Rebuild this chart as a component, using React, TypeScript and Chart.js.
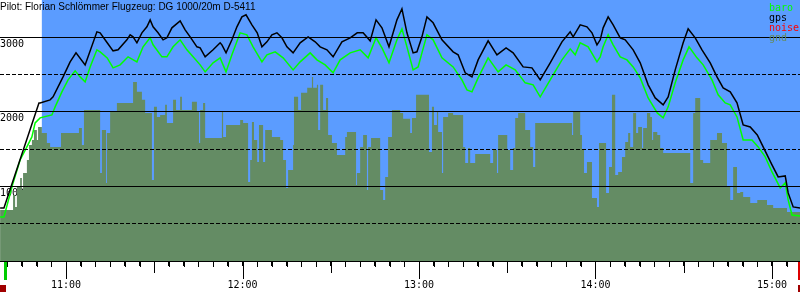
import React, { useEffect, useRef } from 'react';
import { Chart, registerables } from 'chart.js';

Chart.register(...registerables);

// ---------- texts ----------
const TITLE = 'Pilot: Florian Schlömmer Flugzeug: DG 1000/20m D-5411';
const legendLabels = ['baro', 'gps', 'noise', 'gnd'];
const legendColors = ['#00ff00', '#000000', '#ff0000', '#648c64'];

// ---------- time frame (minutes since midnight) ----------
const VIEW_START = 637.56; // left edge
const VIEW_END = 909.52; // right edge
const TAKEOFF_TIME = 639.4;
const RELEASE_TIME = 651.7; // start of the blue (flight) zone
const LANDING_TIME = 909.2;
const Y_MAX = 3500;
const yLabelTicks = [1000, 2000, 3000];
const yDashTicks = [500, 1500, 2500];

// ---------- gps altitude (black) ----------
const gpsTime = [
  637.6, 638.9, 650.8, 651.2, 654.6, 655.6, 659.0, 661.4, 663.4, 666.5,
  670.5, 671.6, 674.0, 676.0, 677.7, 680.7, 681.8, 682.8, 684.1, 685.8,
  687.5, 688.6, 689.6, 691.3, 693.0, 694.3, 696.0, 698.8, 700.5, 702.2,
  704.5, 705.6, 707.3, 710.0, 712.4, 713.0, 714.4, 716.4, 718.1, 719.8,
  721.2, 723.2, 725.0, 726.6, 728.3, 730.0, 731.7, 733.4, 735.1, 737.2,
  739.6, 742.3, 744.7, 746.4, 748.7, 750.8, 753.8, 756.6, 759.0, 761.0,
  763.4, 765.4, 767.4, 769.8, 772.5, 774.2, 775.9, 778.0, 779.3, 781.0,
  782.7, 784.8, 787.8, 791.6, 793.3, 795.7, 798.0, 800.1, 803.5, 806.5,
  809.6, 812.0, 815.4, 818.4, 821.2, 824.6, 828.6, 831.4, 832.4, 834.8,
  837.1, 838.8, 840.5, 841.6, 842.6, 844.3, 846.0, 848.4, 850.1, 852.8,
  855.2, 857.9, 860.3, 863.0, 864.7, 867.1, 869.8, 871.5, 873.9, 876.2,
  879.0, 881.3, 883.4, 885.8, 888.1, 890.2, 892.6, 895.0, 897.0, 900.0,
  902.1, 904.5, 905.5, 907.2, 909.6,
];
const gpsAlt = [
  711, 711, 2120, 2120, 2161, 2201, 2469, 2671, 2791, 2630,
  3073, 3060, 2926, 2818, 2832, 2966, 3033, 3006, 2926, 3060,
  3140, 3234, 3140, 3060, 2966, 2993, 3127, 3221, 3100, 3006,
  2872, 2858, 2738, 2832, 2926, 2899, 2791, 2966, 3140, 3274,
  3301, 3167, 3060, 2872, 2939, 3033, 3060, 2993, 2872, 2791,
  2926, 3006, 2939, 2872, 2832, 2738, 2939, 2993, 3060, 3060,
  2952, 3234, 3127, 2872, 3234, 3382, 3060, 2791, 2805, 3006,
  3274, 3194, 2966, 2805, 2765, 2523, 2469, 2697, 2952, 2765,
  2858, 2791, 2603, 2590, 2429, 2657, 2939, 3073, 3006, 3167,
  3140, 3060, 2899, 2966, 3127, 3274, 3167, 2993, 2966, 2832,
  2657, 2362, 2187, 2094, 2201, 2563, 2926, 3113, 2993, 2832,
  2657, 2469, 2322, 2268, 2120, 1825, 1798, 1691, 1530, 1288,
  1127, 1141, 913, 725, 711,
];

// ---------- baro altitude (green) ----------
const baroTime = [
  637.6, 638.9, 642.0, 644.4, 646.7, 648.4, 649.5, 651.2, 655.2, 656.3,
  658.6, 660.7, 663.1, 664.8, 666.5, 668.2, 670.5, 671.6, 674.0, 676.0,
  678.4, 681.1, 684.1, 686.2, 688.6, 689.6, 692.6, 694.3, 696.4, 698.8,
  701.1, 703.2, 705.6, 707.3, 710.0, 712.4, 714.4, 716.4, 719.2, 721.5,
  723.6, 726.6, 728.3, 731.1, 733.8, 737.2, 739.6, 743.0, 745.3, 748.1,
  750.8, 753.2, 756.6, 760.0, 762.7, 765.4, 767.4, 769.8, 772.5, 774.2,
  775.9, 778.0, 779.7, 781.0, 782.7, 784.8, 787.8, 791.6, 794.6, 796.3,
  798.0, 800.1, 803.5, 806.9, 809.6, 812.7, 816.1, 818.8, 821.2, 824.6,
  828.6, 831.4, 833.1, 834.8, 837.5, 840.5, 841.6, 842.6, 844.3, 846.0,
  848.4, 850.7, 852.8, 855.2, 857.9, 861.0, 863.0, 864.7, 867.1, 869.8,
  871.8, 874.5, 876.6, 879.6, 881.7, 884.1, 885.8, 888.1, 890.2, 893.2,
  895.3, 897.7, 900.0, 902.8, 904.5, 905.5, 906.8, 909.6,
];
const baroAlt = [
  590, 590, 1047, 1355, 1530, 1664, 1852, 1919, 1959, 2067,
  2268, 2429, 2550, 2469, 2402, 2603, 2832, 2805, 2724, 2590,
  2630, 2738, 2671, 2872, 2993, 2899, 2738, 2738, 2872, 2966,
  2832, 2738, 2630, 2536, 2657, 2724, 2536, 2765, 3060, 3033,
  2872, 2671, 2765, 2805, 2724, 2563, 2671, 2791, 2697, 2630,
  2523, 2697, 2791, 2832, 2724, 2993, 2858, 2657, 2966, 3113,
  2872, 2563, 2603, 2791, 3033, 2966, 2724, 2603, 2429, 2295,
  2268, 2456, 2724, 2536, 2630, 2563, 2389, 2362, 2201, 2429,
  2697, 2845, 2765, 2926, 2872, 2671, 2738, 2872, 3033, 2899,
  2738, 2697, 2603, 2456, 2187, 1986, 1919, 2067, 2389, 2697,
  2872, 2724, 2630, 2429, 2228, 2120, 2094, 1932, 1624, 1624,
  1530, 1396, 1194, 980, 1047, 819, 617, 604,
];

// ---------- gnd (olive, stepped) ----------
const gndTime = [
  637.6, 642.0, 642.7, 643.3, 644.4, 645.0, 645.4, 646.7, 647.4, 648.4,
  649.1, 650.1, 650.5, 651.8, 653.5, 654.6, 658.3, 664.4, 665.4, 666.1,
  671.6, 672.2, 673.6, 673.9, 675.0, 677.3, 682.8, 684.1, 685.8, 686.9,
  689.2, 689.9, 690.9, 692.0, 693.7, 694.3, 696.4, 697.4, 698.8, 699.4,
  702.8, 704.5, 705.2, 705.6, 706.6, 707.3, 713.0, 713.4, 714.4, 719.2,
  720.2, 721.9, 722.6, 723.2, 723.9, 725.0, 725.6, 727.0, 727.7, 730.0,
  732.8, 733.8, 734.8, 735.5, 737.2, 737.5, 738.9, 739.9, 742.0, 743.6,
  744.0, 745.3, 745.7, 746.4, 747.4, 748.4, 749.1, 750.4, 752.1, 754.9,
  755.5, 758.6, 758.9, 760.0, 761.0, 762.3, 762.7, 763.7, 766.8, 767.8,
  768.5, 769.5, 770.8, 773.6, 774.6, 777.0, 777.6, 779.0, 783.4, 784.4,
  785.1, 786.1, 786.5, 787.8, 788.2, 789.9, 791.6, 795.0, 795.7, 796.7,
  797.4, 799.1, 804.2, 805.2, 806.5, 806.9, 810.0, 811.0, 812.0, 812.7,
  813.7, 816.1, 817.8, 818.8, 819.5, 832.0, 832.4, 834.8, 835.4, 836.1,
  837.1, 838.8, 840.5, 841.2, 843.6, 844.6, 845.6, 846.7, 847.7, 849.0,
  850.1, 851.1, 851.8, 852.8, 853.8, 854.5, 855.8, 856.2, 857.5, 858.6,
  859.2, 859.6, 861.0, 862.0, 863.0, 872.2, 873.2, 873.9, 875.6, 876.6,
  879.0, 881.3, 883.0, 884.7, 885.8, 886.8, 888.1, 889.2, 890.2, 892.6,
  895.0, 898.3, 900.4, 905.1, 909.6,
];
const gndAlt = [
  684, 886, 725, 993, 1114, 953, 1181, 1355, 1557, 1624,
  1758, 1624, 1798, 1718, 1584, 1530, 1718, 1785, 1557, 2026,
  1181, 1758, 1047, 1718, 2000, 2120, 2402, 2268, 2161, 1986,
  1087, 2067, 1932, 1959, 2094, 1852, 2161, 2026, 2201, 2026,
  2134, 2000, 1584, 2026, 2120, 1651, 2000, 1664, 1825, 1892,
  1852, 1060, 1355, 1865, 1624, 1329, 1825, 1329, 1758, 1664,
  1624, 1355, 980, 1221, 1557, 2201, 2026, 2255, 2322, 2469,
  2322, 2362, 1758, 2362, 2026, 2187, 1691, 1584, 1423, 1664,
  1731, 1020, 1181, 1530, 1691, 953, 1530, 1651, 953, 819,
  1127, 1664, 2026, 1986, 1906, 1718, 1919, 2228, 1463, 2067,
  1825, 2000, 1731, 1181, 1932, 1986, 1959, 1530, 1315, 1516,
  1315, 1436, 1315, 1490, 1181, 1691, 1490, 1221, 1516, 1919,
  1986, 1758, 1530, 1261, 1852, 1691, 2000, 1691, 1490, 1181,
  1329, 845, 725, 1584, 913, 1261, 2228, 1154, 1194, 1396,
  1597, 1718, 1530, 1986, 1718, 1798, 1516, 1785, 1986, 1932,
  1624, 1731, 1691, 1516, 1449, 1047, 1986, 2187, 1355, 1315,
  1624, 1718, 1584, 993, 819, 1261, 913, 926, 859, 778,
  819, 752, 711, 658, 658,
];

const SKY = '#5b9cff';
const OLIVE = '#648c64';
const MONO = "'DejaVu Sans Mono', monospace";
const SANS = "'Liberation Sans', Arial, sans-serif";

function pts(ts: number[], vs: number[]) {
  const n = Math.min(ts.length, vs.length);
  const out: { x: number; y: number }[] = [];
  for (let i = 0; i < n; i++) out.push({ x: ts[i], y: vs[i] });
  return out;
}

function fmtTime(v: number) {
  const h = Math.floor(v / 60);
  const m = Math.round(v % 60);
  return `${h}:${String(m).padStart(2, '0')}`;
}

export default function App() {
  const ref = useRef<HTMLCanvasElement>(null);

  useEffect(() => {
    const canvas = ref.current;
    if (!canvas) return;

    const decor = {
      id: 'decor',
      afterDraw(chart: any) {
        const ctx = chart.ctx as CanvasRenderingContext2D;
        const xs = chart.scales.x;
        const bottom = chart.chartArea.bottom;
        ctx.save();
        // tick marks: 5 min short, 30 min medium, hour long
        ctx.strokeStyle = '#000';
        ctx.lineWidth = 1;
        for (let t = Math.ceil(VIEW_START / 5) * 5; t <= VIEW_END; t += 5) {
          const px = Math.round(xs.getPixelForValue(t)) + 0.5;
          const len = t % 60 === 0 ? 18 : t % 30 === 0 ? 12 : 6;
          ctx.beginPath();
          ctx.moveTo(px, bottom);
          ctx.lineTo(px, bottom + len);
          ctx.stroke();
        }
        // takeoff / landing markers
        const xT = xs.getPixelForValue(TAKEOFF_TIME);
        const xL = xs.getPixelForValue(LANDING_TIME);
        ctx.fillStyle = '#00cc00';
        ctx.fillRect(Math.round(xT) - 1, bottom + 1, 3, 18);
        ctx.fillStyle = '#dd0000';
        ctx.fillRect(Math.round(xL) - 1, bottom + 1, 3, 18);
        ctx.fillStyle = '#a00000';
        ctx.fillRect(Math.round(xs.getPixelForValue(VIEW_START)), bottom + 24, 6, 7);
        ctx.fillRect(Math.round(xL) - 1, bottom + 24, 6, 7);
        // legend
        ctx.font = `10px ${MONO}`;
        ctx.textAlign = 'left';
        ctx.textBaseline = 'alphabetic';
        legendLabels.forEach((lab, i) => {
          ctx.fillStyle = legendColors[i];
          ctx.fillText(lab, 769, 11 + i * 10);
        });
        // title
        ctx.font = `10px ${SANS}`;
        ctx.fillStyle = '#000';
        ctx.fillText(TITLE, 0, 10);
        ctx.restore();
      },
    };

    const chart = new Chart(canvas, {
      type: 'line',
      data: {
        datasets: [
          {
            label: 'gps',
            data: pts(gpsTime, gpsAlt),
            borderColor: '#000000',
            borderWidth: 1.5,
            pointRadius: 0,
            fill: false,
            tension: 0,
          },
          {
            label: 'baro',
            data: pts(baroTime, baroAlt),
            borderColor: '#00ff00',
            borderWidth: 1.5,
            pointRadius: 0,
            fill: false,
            tension: 0,
          },
          {
            label: 'gnd',
            data: pts(gndTime, gndAlt),
            borderColor: 'rgba(0,0,0,0)',
            borderWidth: 0,
            backgroundColor: OLIVE,
            fill: 'origin',
            stepped: true,
            pointRadius: 0,
          },
          {
            label: 'sky',
            data: [
              { x: RELEASE_TIME, y: Y_MAX },
              { x: VIEW_END, y: Y_MAX },
            ],
            borderColor: 'rgba(0,0,0,0)',
            borderWidth: 0,
            backgroundColor: SKY,
            fill: 'origin',
            pointRadius: 0,
          },
        ],
      } as any,
      options: {
        responsive: false,
        animation: false,
        devicePixelRatio: 1,
        events: [],
        layout: { padding: 0, autoPadding: false },
        plugins: {
          legend: { display: false },
          tooltip: { enabled: false },
          title: { display: false },
        },
        scales: {
          x: {
            type: 'linear',
            position: 'bottom',
            min: VIEW_START,
            max: VIEW_END,
            afterBuildTicks: (s: any) => {
              const ticks = [];
              for (let t = Math.ceil(VIEW_START / 5) * 5; t <= VIEW_END; t += 5) ticks.push({ value: t });
              s.ticks = ticks;
            },
            afterFit: (s: any) => {
              s.height = 39;
              s.paddingLeft = 0;
              s.paddingRight = 0;
            },
            ticks: {
              autoSkip: false,
              maxRotation: 0,
              minRotation: 0,
              padding: 13,
              color: '#000',
              font: { family: MONO, size: 10 },
              callback: (v: any) => (Number(v) % 60 === 0 ? fmtTime(Number(v)) : ''),
            },
            grid: {
              drawOnChartArea: false,
              drawTicks: true,
              tickLength: 5,
              color: '#000',
              tickColor: '#000',
            },
            border: { display: true, color: '#000', width: 1 },
          },
          y: {
            type: 'linear',
            position: 'left',
            min: 0,
            max: Y_MAX,
            afterBuildTicks: (s: any) => {
              s.ticks = yLabelTicks.map((v) => ({ value: v }));
            },
            afterFit: (s: any) => {
              s.width = 0;
              s.paddingTop = 0;
              s.paddingBottom = 0;
            },
            ticks: {
              mirror: true,
              padding: 0,
              labelOffset: 7,
              autoSkip: false,
              color: '#000',
              font: { family: MONO, size: 10 },
              callback: (v: any) => String(v),
            },
            grid: { color: '#000', drawTicks: false, z: 1 },
            border: { display: false },
          },
          y2: {
            type: 'linear',
            position: 'left',
            min: 0,
            max: Y_MAX,
            afterBuildTicks: (s: any) => {
              s.ticks = yDashTicks.map((v) => ({ value: v }));
            },
            afterFit: (s: any) => {
              s.width = 0;
              s.paddingTop = 0;
              s.paddingBottom = 0;
            },
            ticks: { display: false },
            grid: { color: '#000', drawTicks: false, z: 1 },
            border: { display: false, dash: [4, 2] },
          },
        },
      } as any,
      plugins: [decor],
    });

    return () => chart.destroy();
  }, []);

  return (
    <div style={{ position: 'absolute', left: 0, top: 0, width: 800, height: 300, background: '#fff' }}>
      <canvas ref={ref} width={800} height={300} style={{ display: 'block', width: 800, height: 300 }} />
    </div>
  );
}
